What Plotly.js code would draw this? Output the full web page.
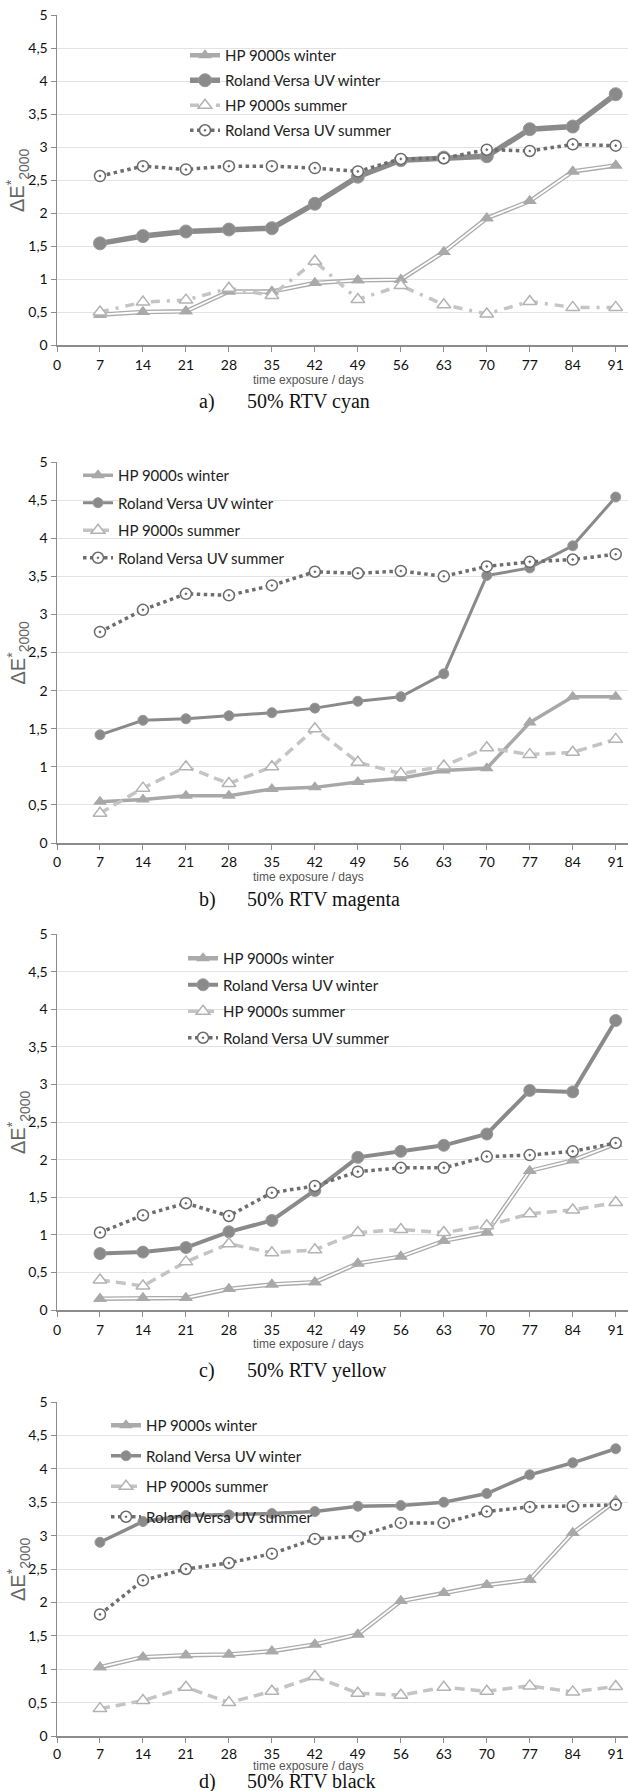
<!DOCTYPE html>
<html>
<head>
<meta charset="utf-8">
<script src="https://cdn.plot.ly/plotly-3.0.1.min.js"></script>
<style>html,body{margin:0;padding:0;background:#fff}#chart{width:628px;height:1791px}</style>
</head>
<body>
<div id="chart"></div>
<script>
// ---------- data ----------
const days = [7, 14, 21, 28, 35, 42, 49, 56, 63, 70, 77, 84, 91];
const seriesNames = ['HP 9000s winter', 'Roland Versa UV winter', 'HP 9000s summer', 'Roland Versa UV summer'];

const hpWinterCyan     = [0.46, 0.50, 0.51, 0.81, 0.81, 0.94, 0.98, 0.99, 1.41, 1.92, 2.18, 2.63, 2.72];
const rolandWinterCyan = [1.54, 1.65, 1.72, 1.75, 1.77, 2.14, 2.55, 2.80, 2.84, 2.86, 3.27, 3.31, 3.80];
const hpSummerCyan     = [0.50, 0.65, 0.68, 0.86, 0.75, 1.27, 0.69, 0.90, 0.61, 0.47, 0.66, 0.57, 0.57];
const rolandSummerCyan = [2.56, 2.71, 2.66, 2.71, 2.71, 2.68, 2.63, 2.82, 2.83, 2.96, 2.94, 3.04, 3.02];

const hpWinterMagenta     = [0.54, 0.57, 0.62, 0.62, 0.71, 0.73, 0.80, 0.85, 0.95, 0.98, 1.58, 1.92, 1.92];
const rolandWinterMagenta = [1.42, 1.61, 1.63, 1.67, 1.71, 1.77, 1.86, 1.92, 2.22, 3.51, 3.61, 3.90, 4.54];
const hpSummerMagenta     = [0.39, 0.72, 1.00, 0.78, 1.00, 1.50, 1.06, 0.91, 1.01, 1.25, 1.16, 1.19, 1.36];
const rolandSummerMagenta = [2.77, 3.06, 3.27, 3.25, 3.38, 3.56, 3.54, 3.57, 3.50, 3.63, 3.69, 3.72, 3.79];

const hpWinterYellow     = [0.15, 0.16, 0.16, 0.28, 0.34, 0.37, 0.62, 0.71, 0.92, 1.03, 1.85, 1.99, 2.21];
const rolandWinterYellow = [0.75, 0.77, 0.83, 1.04, 1.19, 1.59, 2.03, 2.11, 2.19, 2.34, 2.92, 2.90, 3.85];
const hpSummerYellow     = [0.40, 0.32, 0.64, 0.88, 0.76, 0.80, 1.03, 1.07, 1.03, 1.12, 1.28, 1.33, 1.43];
const rolandSummerYellow = [1.03, 1.26, 1.42, 1.25, 1.56, 1.65, 1.84, 1.89, 1.89, 2.04, 2.06, 2.11, 2.22];

const hpWinterBlack     = [1.03, 1.18, 1.21, 1.22, 1.27, 1.37, 1.52, 2.02, 2.14, 2.26, 2.34, 3.04, 3.52];
const rolandWinterBlack = [2.90, 3.21, 3.30, 3.31, 3.33, 3.36, 3.44, 3.45, 3.50, 3.63, 3.91, 4.09, 4.30];
const hpSummerBlack     = [0.41, 0.53, 0.73, 0.50, 0.67, 0.89, 0.64, 0.61, 0.73, 0.67, 0.75, 0.66, 0.74];
const rolandSummerBlack = [1.82, 2.33, 2.50, 2.59, 2.73, 2.95, 2.99, 3.19, 3.19, 3.36, 3.43, 3.44, 3.46];

const panelLetters = ['a)', 'b)', 'c)', 'd)'];
const panelCaptions = ['50% RTV cyan', '50% RTV magenta', '50% RTV yellow', '50% RTV black'];
const xAxisTitle = 'time exposure / days';
const yAxisTitle = '\u0394E<sup>*</sup><sub>2000</sub>';

// ---------- layout geometry (pixels) ----------
const W = 628, H = 1791, ML = 57, PW = W - ML;
const panels = [
  {data: [hpWinterCyan, rolandWinterCyan, hpSummerCyan, rolandSummerCyan],
   top: 15, bottom: 345, legX: 185, legY: 39, legGap: 2.5, titleY: 380, capY: 401, std: 2,
   hpDouble: true, roWWidth: 5.5, roWSize: 13, hpSDash: '9px,7px,3px,7px'},
  {data: [hpWinterMagenta, rolandWinterMagenta, hpSummerMagenta, rolandSummerMagenta],
   top: 462, bottom: 843, legX: 78, legY: 459, legGap: 5, titleY: 877, capY: 900, std: 1,
   hpDouble: false, roWWidth: 3, roWSize: 10, hpSDash: '10px,6px'},
  {data: [hpWinterYellow, rolandWinterYellow, hpSummerYellow, rolandSummerYellow],
   top: 934, bottom: 1310, legX: 183, legY: 942, legGap: 4, titleY: 1344, capY: 1370, std: 2,
   hpDouble: true, roWWidth: 4, roWSize: 12, hpSDash: '10px,6px'},
  {data: [hpWinterBlack, rolandWinterBlack, hpSummerBlack, rolandSummerBlack],
   top: 1402, bottom: 1736, legX: 106, legY: 1409, legGap: 8, titleY: 1766, capY: 1781, std: 0,
   hpDouble: true, roWWidth: 3.5, roWSize: 10, hpSDash: '10px,6px'}
];

const px2x = p => (p - ML) / PW;
const py2y = p => 1 - p / H;

const traces = [];
const layout = {
  width: W, height: H,
  margin: {l: ML, r: 0, t: 0, b: 0, pad: 0},
  paper_bgcolor: '#fff', plot_bgcolor: '#fff',
  separators: ', ',
  showlegend: true,
  annotations: []
};

const tickFont = {family: 'Lato, "Open Sans", sans-serif', size: 14, color: '#111'};
const axisLineColor = '#8c8c8c';

panels.forEach((p, i) => {
  const k = i === 0 ? '' : String(i + 1);
  const xa = 'x' + k, ya = 'y' + k;
  const legName = 'legend' + k;

  layout['xaxis' + k] = {
    domain: [0, 1], anchor: ya, range: [0, 93],
    tick0: 0, dtick: 7, showgrid: false, zeroline: false,
    showline: true, linecolor: axisLineColor, linewidth: 1.5,
    ticks: 'outside', ticklen: 5, tickcolor: axisLineColor, tickwidth: 1,
    tickfont: tickFont, ticklabelstandoff: p.std, fixedrange: true
  };
  layout['yaxis' + k] = {
    domain: [py2y(p.bottom), py2y(p.top)], anchor: xa, range: [0, 5],
    tick0: 0, dtick: 0.5, showgrid: true, gridcolor: '#e3e3e3', gridwidth: 1,
    zeroline: false, showline: true, linecolor: axisLineColor, linewidth: 1.5,
    ticks: 'outside', ticklen: 5, tickcolor: axisLineColor, tickwidth: 1,
    tickfont: tickFont, fixedrange: true
  };
  layout[legName] = {
    x: px2x(p.legX), y: py2y(p.legY), xanchor: 'left', yanchor: 'top',
    bgcolor: 'rgba(0,0,0,0)', borderwidth: 0,
    font: {family: 'Lato, "Open Sans", sans-serif', size: 15, color: '#222'},
    tracegroupgap: p.legGap, itemwidth: 30
  };

  const [hpW, roW, hpS, roS] = p.data;

  // HP 9000s winter
  if (p.hpDouble) {
    traces.push({x: days, y: hpW, xaxis: xa, yaxis: ya, legend: legName, legendgroup: 'g1' + i,
      name: seriesNames[0], mode: 'lines+markers',
      line: {color: '#ababab', width: 4.5},
      marker: {symbol: 'triangle-up', size: 12, color: '#a9a9a9'}});
    traces.push({x: days, y: hpW, xaxis: xa, yaxis: ya, showlegend: false, hoverinfo: 'skip',
      mode: 'lines', line: {color: '#ffffff', width: 1.8}});
    traces.push({x: days, y: hpW, xaxis: xa, yaxis: ya, showlegend: false, hoverinfo: 'skip',
      mode: 'markers', marker: {symbol: 'triangle-up', size: 12, color: '#a9a9a9'}});
  } else {
    traces.push({x: days, y: hpW, xaxis: xa, yaxis: ya, legend: legName, legendgroup: 'g1' + i,
      name: seriesNames[0], mode: 'lines+markers',
      line: {color: '#a8a8a8', width: 3.5},
      marker: {symbol: 'triangle-up', size: 12, color: '#a8a8a8'}});
  }
  // Roland Versa UV winter
  traces.push({x: days, y: roW, xaxis: xa, yaxis: ya, legend: legName, legendgroup: 'g2' + i,
    name: seriesNames[1], mode: 'lines+markers',
    line: {color: '#8a8a8a', width: p.roWWidth},
    marker: {symbol: 'circle', size: p.roWSize, color: '#8a8a8a', line: {color: '#9a9a9a', width: 1}}});
  // HP 9000s summer
  traces.push({x: days, y: hpS, xaxis: xa, yaxis: ya, legend: legName, legendgroup: 'g3' + i,
    name: seriesNames[2], mode: 'lines+markers',
    line: {color: '#c4c4c4', width: 3.5, dash: p.hpSDash},
    marker: {symbol: 'triangle-up', size: 12, color: '#ffffff', line: {color: '#b3b3b3', width: 1.5}}});
  // Roland Versa UV summer
  traces.push({x: days, y: roS, xaxis: xa, yaxis: ya, legend: legName, legendgroup: 'g4' + i,
    name: seriesNames[3], mode: 'lines+markers',
    line: {color: '#6e6e6e', width: 3.5, dash: 'dot'},
    marker: {symbol: 'circle-dot', size: 11, color: '#ffffff', line: {color: '#6a6a6a', width: 1.5}}});

  // y axis title
  layout.annotations.push({
    xref: 'paper', yref: 'paper', x: px2x(18), y: py2y((p.top + p.bottom) / 2),
    xanchor: 'center', yanchor: 'middle', textangle: -90, showarrow: false,
    text: yAxisTitle, font: {family: '"Liberation Sans", Arial, sans-serif', size: 20, color: '#666'}
  });
  // x axis title
  layout.annotations.push({
    xref: 'paper', yref: 'paper', x: px2x(308), y: py2y(p.titleY),
    xanchor: 'center', yanchor: 'middle', showarrow: false,
    text: xAxisTitle, font: {family: '"Liberation Sans", Arial, sans-serif', size: 12, color: '#555'}
  });
  // caption: letter and text at tab positions
  layout.annotations.push({
    xref: 'paper', yref: 'paper', x: px2x(197), y: py2y(p.capY),
    xanchor: 'left', yanchor: 'middle', showarrow: false,
    text: panelLetters[i],
    font: {family: '"Liberation Serif", "Times New Roman", serif', size: 20, color: '#111'}
  });
  layout.annotations.push({
    xref: 'paper', yref: 'paper', x: px2x(245), y: py2y(p.capY),
    xanchor: 'left', yanchor: 'middle', showarrow: false,
    text: panelCaptions[i],
    font: {family: '"Liberation Serif", "Times New Roman", serif', size: 20, color: '#111'}
  });
});

Plotly.newPlot('chart', traces, layout, {staticPlot: true, displayModeBar: false});
</script>
</body>
</html>
